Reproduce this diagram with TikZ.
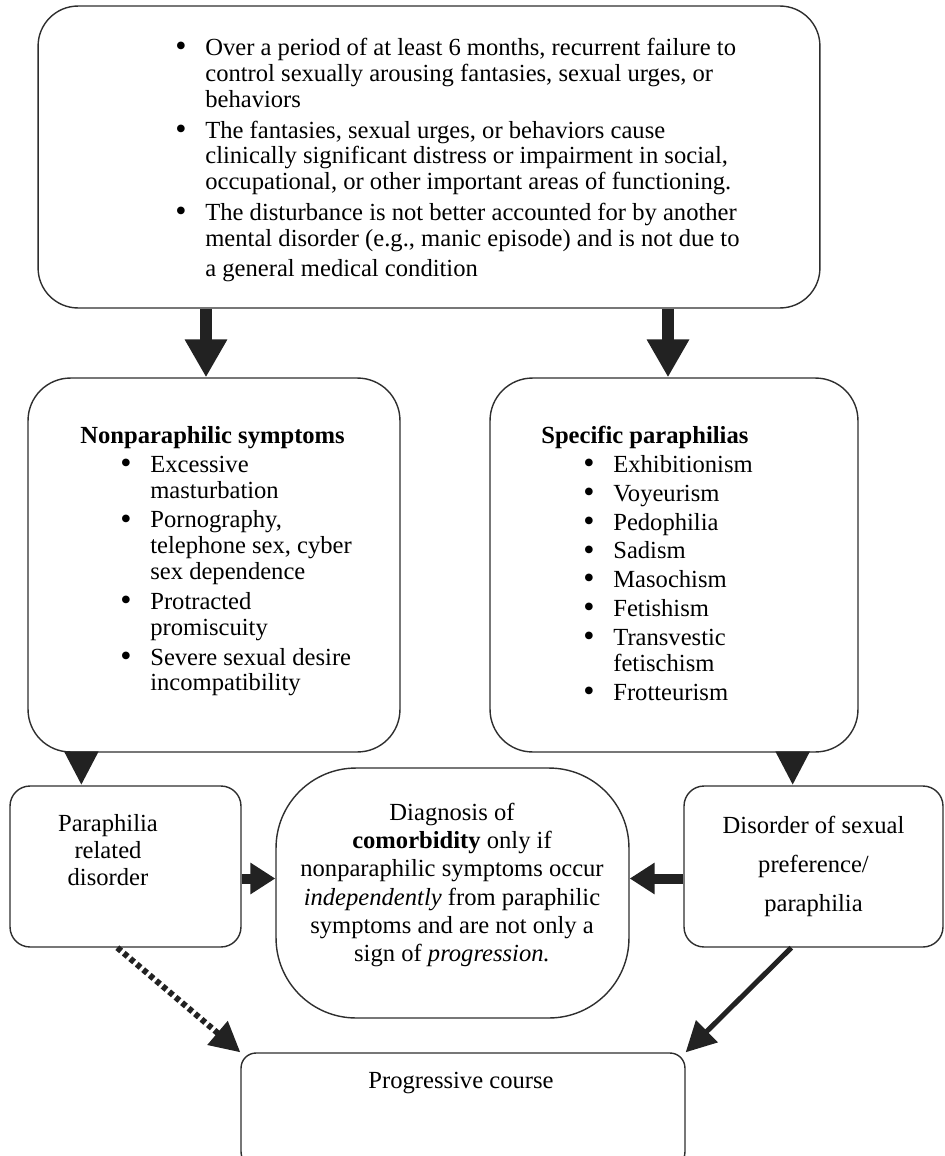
\documentclass[tikz,border=0pt]{standalone}
\usepackage{fontspec}
\setmainfont{Liberation Serif}
\usepackage{tikz}
\usetikzlibrary{arrows.meta,calc}
\usepackage{xcolor}
\definecolor{ink}{HTML}{222222}
\definecolor{rim}{HTML}{2E2E2E}
\newcommand{\bitem}[1]{\hspace*{#1}\makebox[0.6cm][l]{\smash{\raisebox{-0.1ex}{\scalebox{1.3}{\textbullet}}}}}
\newcommand{\bcont}[1]{\hspace*{\dimexpr#1+0.6cm\relax}}

\begin{document}
\begin{tikzpicture}[x=0.02cm, y=-0.02cm,
    every node/.style={font=\fontsize{14}{14.7}\selectfont, inner sep=0pt},
    box/.style={draw=rim, line width=0.8pt, rounded corners=#1},
    box/.default=0.4cm,
    listtext/.style={align=left, anchor=north west},
    midtext/.style={align=center},
    fat/.style={-{Triangle[width=0.8cm,length=0.76cm]}, line width=0.24cm, ink},
    short/.style={-{Triangle[width=0.64cm,length=0.68cm]}, line width=0.2cm, ink},
    side/.style={-{Triangle[width=0.6cm,length=0.5cm]}, line width=0.2cm, ink},
    slant/.style={-{Triangle[width=0.6cm,length=0.6cm]}, line width=0.1cm, ink}]

    \useasboundingbox (0,0) rectangle (945,1156);
    \clip (0,0) rectangle (945,1156);

    % boxes
    \node[box=0.8cm, minimum width=15.64cm, minimum height=6.04cm] (top) at (429,157) {};
    \node[box=0.85cm, minimum width=7.44cm, minimum height=7.48cm] (nonp) at (214,565) {};
    \node[box=0.85cm, minimum width=7.36cm, minimum height=7.48cm] (spec) at (674,565) {};
    \node[box, minimum width=4.62cm, minimum height=3.22cm] (para) at (125.5,866.5) {};
    \node[box=1.6cm, minimum width=7.06cm, minimum height=5cm] (diag) at (452.5,893) {};
    \node[box, minimum width=5.18cm, minimum height=3.22cm, midtext] (dis) at (813.5,866.5)
        {Disorder of sexual\\[0.27cm] preference/\\[0.27cm] paraphilia};
    \node[box=0.3cm, minimum width=8.88cm, minimum height=2.28cm] (prog) at (463,1110) {};

    % texts
    \node[listtext] (toptext) at (175,38) {%
        \bitem{0cm}Over a period of at least 6 months, recurrent failure to\\
        \bcont{0cm}control sexually arousing fantasies, sexual urges, or\\
        \bcont{0cm}behaviors\\[0.1cm]
        \bitem{0cm}The fantasies, sexual urges, or behaviors cause\\
        \bcont{0cm}clinically significant distress or impairment in social,\\
        \bcont{0cm}occupational, or other important areas of functioning.\\[0.1cm]
        \bitem{0cm}The disturbance is not better accounted for by another\\
        \bcont{0cm}mental disorder (e.g., manic episode) and is not due to\\[0.08cm]
        \bcont{0cm}a general medical condition};
    \node[listtext] (nonptext) at (80,426) {%
        \textbf{Nonparaphilic symptoms}\\[0.06cm]
        \bitem{0.8cm}Excessive\\
        \bcont{0.8cm}masturbation\\[0.08cm]
        \bitem{0.8cm}Pornography,\\
        \bcont{0.8cm}telephone sex, cyber\\
        \bcont{0.8cm}sex dependence\\[0.08cm]
        \bitem{0.8cm}Protracted\\
        \bcont{0.8cm}promiscuity\\[0.08cm]
        \bitem{0.8cm}Severe sexual desire\\
        \bcont{0.8cm}incompatibility};
    \node[listtext] (spectext) at (541,426) {%
        \textbf{Specific paraphilias}\\[0.06cm]
        \bitem{0.84cm}Exhibitionism\\[0.06cm]
        \bitem{0.84cm}Voyeurism\\[0.06cm]
        \bitem{0.84cm}Pedophilia\\[0.06cm]
        \bitem{0.84cm}Sadism\\[0.06cm]
        \bitem{0.84cm}Masochism\\[0.06cm]
        \bitem{0.84cm}Fetishism\\[0.06cm]
        \bitem{0.84cm}Transvestic\\
        \bcont{0.84cm}fetischism\\[0.06cm]
        \bitem{0.84cm}Frotteurism};
    \node[midtext] (paratext) at (108,850) {Paraphilia\\[0.03cm] related\\[0.03cm] disorder};
    \node[midtext] (diagtext) at (452,885) {Diagnosis of\\[0.05cm]
        \textbf{comorbidity} only if\\[0.05cm]
        nonparaphilic symptoms occur\\[0.05cm]
        \textit{independently} from paraphilic\\[0.05cm]
        symptoms and are not only a\\[0.05cm]
        sign of \textit{progression.}};
    \node (progtext) at (461,1083) {Progressive course};

    % coords
    \coordinate (nonpin) at ([xshift=-0.16cm]nonp.north);
    \coordinate (specin) at ([xshift=-0.12cm]spec.north);
    \coordinate (nonpout) at ($(nonp.south west)+(54,0)$);
    \coordinate (specout) at ($(spec.south east)+(-66,0)$);
    \coordinate (paraout) at ($(para.east)+(0,12)$);
    \coordinate (disout) at ($(dis.west)+(0,12)$);
    \coordinate (paradown) at ($(para.south west)+(108,0)$);
    \coordinate (disdown) at ($(dis.south west)+(108,0)$);

    % arrows
    \draw[fat] (nonpin |- top.south) -- (nonpin);
    \draw[fat] (specin |- top.south) -- (specin);
    \draw[short] (nonpout) -- (nonpout |- para.north);
    \draw[short] (specout) -- (specout |- dis.north);
    \draw[side] (paraout) -- (paraout -| diag.west);
    \draw[side] (disout) -- (disout -| diag.east);
    \draw[slant, line width=0.12cm, dash pattern=on 0.1cm off 0.07cm] (paradown) -- (prog.north west);
    \draw[slant] (disdown) -- (prog.north east);
\end{tikzpicture}
\end{document}
